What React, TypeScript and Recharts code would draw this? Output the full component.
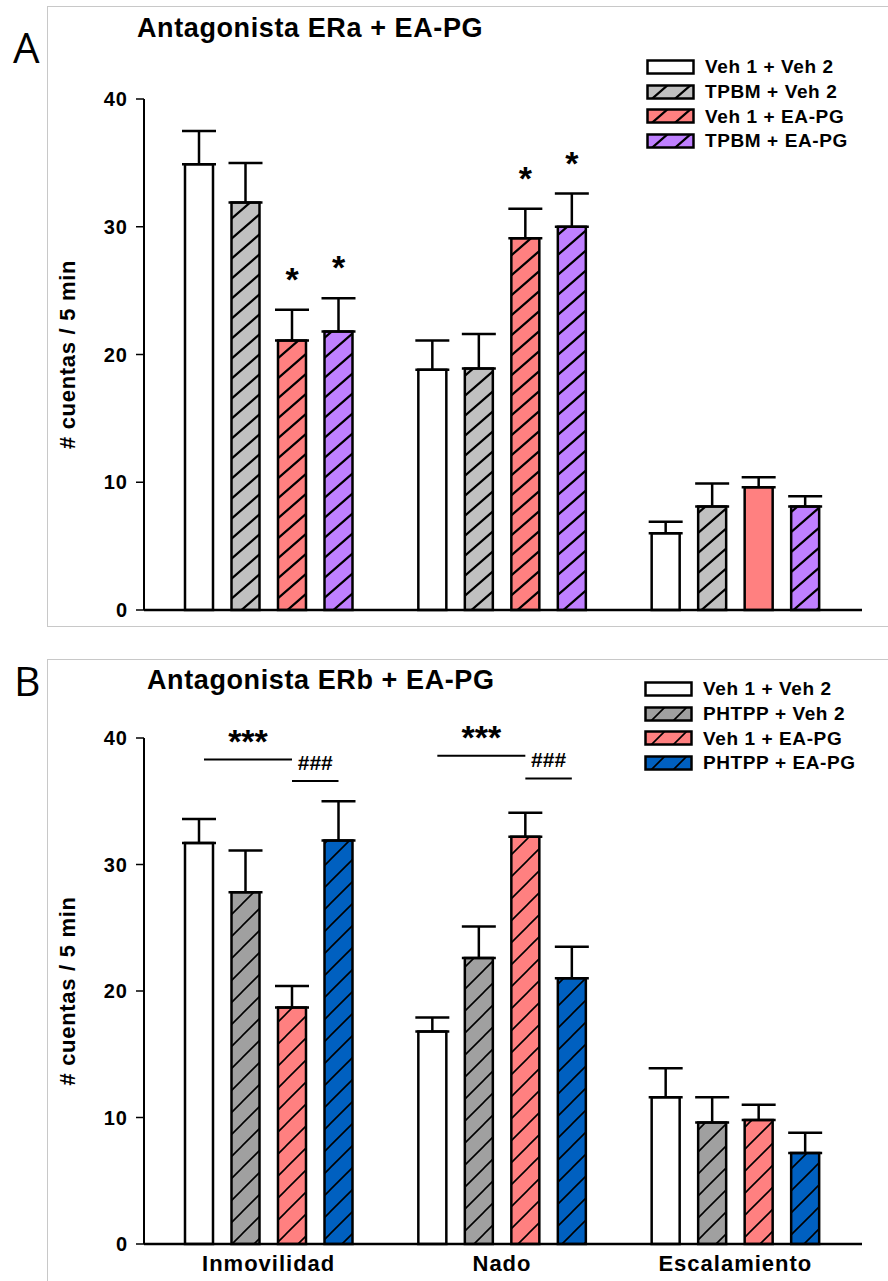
import React from "react";
import { BarChart, Bar, XAxis, YAxis, ErrorBar, Cell, LabelList, Legend } from "recharts";

const categories = ["Inmovilidad", "Nado", "Escalamiento"];
const yTicks = [0, 10, 20, 30, 40];

// panel A: antagonista ERa
const namesA = ["Veh 1 + Veh 2", "TPBM + Veh 2", "Veh 1 + EA-PG", "TPBM + EA-PG"];
const meanA = [
  [34.9, 18.8, 6.0],
  [31.9, 18.9, 8.1],
  [21.1, 29.1, 9.6],
  [21.8, 30.0, 8.1],
];
const semA = [
  [2.6, 2.3, 0.9],
  [3.1, 2.7, 1.8],
  [2.4, 2.3, 0.8],
  [2.6, 2.6, 0.8],
];
const starsA = [
  [false, false, false],
  [false, false, false],
  [true, true, false],
  [true, true, false],
];

// panel B: antagonista ERb
const namesB = ["Veh 1 + Veh 2", "PHTPP + Veh 2", "Veh 1 + EA-PG", "PHTPP + EA-PG"];
const meanB = [
  [31.7, 16.8, 11.6],
  [27.8, 22.6, 9.6],
  [18.7, 32.2, 9.8],
  [31.9, 21.0, 7.2],
];
const semB = [
  [1.9, 1.1, 2.3],
  [3.3, 2.5, 2.0],
  [1.7, 1.9, 1.2],
  [3.1, 2.5, 1.6],
];
// comparisons drawn over Inmovilidad and Nado
const starLevelB = [38.3, 38.6];
const hashLevelB = [36.6, 36.8];

const FONT = '"Liberation Sans", Arial, sans-serif';
const BAR = 28;
const GAP = 18.5;

const colorsA = ["#ffffff", "#c0c0c0", "#ff8080", "#bf80ff"];
const colorsB = ["#ffffff", "#a0a0a0", "#ff8080", "#0060c0"];
// which bars are drawn without hatching (series index -> category indexes)
const plainA: number[][] = [[0, 1, 2], [], [2], []];
const plainB: number[][] = [[0, 1, 2], [], [], []];

const buildRows = (means: number[][], sems: number[][]) =>
  categories.map((cat, i) => {
    const row: Record<string, any> = { cat };
    means.forEach((m, k) => {
      row[`v${k}`] = m[i];
      row[`e${k}`] = [0, sems[k][i]];
    });
    return row;
  });

const rowsA = buildRows(meanA, semA);
const rowsB = buildRows(meanB, semB);

const Hatch = ({ id, color, w, h, sw }: any) => (
  <pattern id={id} patternUnits="userSpaceOnUse" width={w} height={h}>
    <rect width={w} height={h} fill={color} />
    <path
      d={`M0,${h} L${w},0 M${-w / 2},${h / 2} L${w / 2},${-h / 2} M${w / 2},${1.5 * h} L${1.5 * w},${h / 2}`}
      stroke="#000"
      strokeWidth={sw}
    />
  </pattern>
);

const YLabel = (p: any) => {
  const vb = p.viewBox || {};
  const cy = (vb.y ?? 0) + (vb.height ?? 0) / 2;
  return (
    <text
      x={67}
      y={cy}
      transform={`rotate(-90, 67, ${cy})`}
      textAnchor="middle"
      dominantBaseline="central"
      fontFamily={FONT}
      fontWeight="bold"
      fontSize={22}
      letterSpacing={0.7}
      fill="#000"
    >
      # cuentas / 5 min
    </text>
  );
};

const starLabel = (k: number) => (p: any) => {
  const { x, y, width, height, index } = p;
  if (index == null || !starsA[k][index]) return null;
  const ppu = Number(height) / meanA[k][index];
  const top = Number(y) - semA[k][index] * ppu;
  return (
    <text
      key={`s${k}-${index}`}
      x={Number(x) + Number(width) / 2}
      y={top - 34 + 15}
      textAnchor="middle"
      fontFamily={FONT}
      fontWeight="bold"
      fontSize={34}
      fill="#000"
    >
      *
    </text>
  );
};

// brackets are anchored on the Veh 1 + EA-PG bar (series 2)
const bracketLabel = (p: any) => {
  const { x, y, width, height, index } = p;
  if (index == null || index >= starLevelB.length) return null;
  const ppu = Number(height) / meanB[2][index];
  const base = Number(y) + Number(height);
  const cx = Number(x) + Number(width) / 2;
  const step = BAR + GAP;
  const yStar = base - starLevelB[index] * ppu;
  const yHash = base - hashLevelB[index] * ppu;
  const x0 = cx - 2 * step + 5;
  const x2 = cx + step;
  return (
    <g key={`b${index}`}>
      <line x1={x0} x2={cx} y1={yStar} y2={yStar} stroke="#000" strokeWidth={2} />
      <line x1={cx} x2={x2} y1={yHash} y2={yHash} stroke="#000" strokeWidth={2} />
      <text x={(x0 + cx) / 2} y={yStar - 22 + 15} textAnchor="middle" fontFamily={FONT} fontWeight="bold" fontSize={34} fill="#000">
        ***
      </text>
      <text x={(cx + x2) / 2} y={yHash - 11} textAnchor="middle" fontFamily={FONT} fontWeight="bold" fontSize={21} fill="#000">
        ###
      </text>
    </g>
  );
};

const LegendBlock = ({ names, colors, plain, prefix, left, textLeft }: any) => (
  <div style={{ fontFamily: FONT }}>
    {names.map((n: string, k: number) => (
      <div key={n} style={{ display: "flex", alignItems: "center", height: 24.7 }}>
        <svg width={50} height={17} style={{ display: "block" }}>
          <rect
            x={1.5}
            y={1.5}
            width={46}
            height={13}
            fill={plain[k].length === categories.length ? colors[k] : `url(#${prefix}${k})`}
            stroke="#000"
            strokeWidth={2.5}
          />
        </svg>
        <span
          style={{
            marginLeft: textLeft - left - 50,
            fontWeight: "bold",
            fontSize: 19,
            letterSpacing: 0.6,
            color: "#000",
            whiteSpace: "nowrap",
          }}
        >
          {n}
        </span>
      </div>
    ))}
  </div>
);

const yAxisProps = {
  width: 144,
  domain: [0, 40] as [number, number],
  ticks: yTicks,
  interval: 0 as const,
  tickSize: 8,
  tickMargin: 8,
  axisLine: { stroke: "#000", strokeWidth: 2 },
  tickLine: { stroke: "#000", strokeWidth: 1.5 },
  tick: { fill: "#000", fontSize: 20, fontWeight: "bold", fontFamily: FONT, letterSpacing: 1 },
  label: YLabel,
};

const renderBars = (names: string[], colors: string[], plain: number[][], prefix: string, rows: any[], extra: (k: number) => any, sw: number) =>
  names.map((n, k) => (
    <Bar key={n} dataKey={`v${k}`} name={n} stroke="#000" strokeWidth={sw} isAnimationActive={false}>
      {rows.map((_, i) => (
        <Cell key={i} fill={plain[k].includes(i) ? colors[k] : `url(#${prefix}${k})`} />
      ))}
      <ErrorBar dataKey={`e${k}`} direction="y" width={17} stroke="#000" strokeWidth={2.5} />
      {extra(k)}
    </Bar>
  ));

const App = () => {
  return (
    <div style={{ position: "absolute", left: 0, top: 0, width: 888, height: 1281, overflow: "hidden", background: "#fff" }}>
      {/* panel frames */}
      <div style={{ position: "absolute", left: 47, top: 6, width: 841, height: 619, borderLeft: "1px solid #c8c8c8", borderTop: "1px solid #c8c8c8", borderBottom: "1px solid #c8c8c8" }} />
      <div style={{ position: "absolute", left: 47, top: 659, width: 841, height: 630, borderLeft: "1px solid #c8c8c8", borderTop: "1px solid #c8c8c8" }} />

      <div style={{ position: "absolute", left: 0, top: 0 }}>
        <BarChart width={888} height={640} data={rowsA} margin={{ top: 99, right: 26, bottom: 0, left: 0 }} barSize={BAR} barGap={GAP}>
          <defs>
            {colorsA.map((c, k) => (
              <Hatch key={k} id={`hA${k}`} color={c} w={23} h={20} sw={2.2} />
            ))}
          </defs>
          <XAxis dataKey="cat" height={30} tick={false} tickLine={false} axisLine={{ stroke: "#000", strokeWidth: 2.5 }} padding={{ left: 8, right: 10 }} />
          <YAxis {...yAxisProps} />
          <Legend
            layout="vertical"
            align="center"
            verticalAlign="middle"
            content={() => <LegendBlock names={namesA} colors={colorsA} plain={plainA} prefix="hA" left={646} textLeft={705} />}
            wrapperStyle={{ position: "absolute", left: 646, top: 55, width: 240 }}
          />
          {renderBars(namesA, colorsA, plainA, "hA", rowsA, (k) => (starsA[k].some(Boolean) ? <LabelList content={starLabel(k)} /> : null), 2.5)}
        </BarChart>
      </div>

      <div style={{ position: "absolute", left: 0, top: 640 }}>
        <BarChart width={888} height={641} data={rowsB} margin={{ top: 98, right: 26, bottom: 0, left: 0 }} barSize={BAR} barGap={GAP}>
          <defs>
            {colorsB.map((c, k) => (
              <Hatch key={k} id={`hB${k}`} color={c} w={22} h={22} sw={1.6} />
            ))}
          </defs>
          <XAxis
            dataKey="cat"
            height={37}
            tickSize={0}
            tickMargin={11}
            tickLine={false}
            axisLine={{ stroke: "#000", strokeWidth: 2.5 }}
            padding={{ left: 8, right: 10 }}
            tick={{ fill: "#000", fontSize: 22, fontWeight: "bold", fontFamily: FONT, letterSpacing: 1 }}
          />
          <YAxis {...yAxisProps} />
          <Legend
            layout="vertical"
            align="center"
            verticalAlign="middle"
            content={() => <LegendBlock names={namesB} colors={colorsB} plain={plainB} prefix="hB" left={644} textLeft={703} />}
            wrapperStyle={{ position: "absolute", left: 644, top: 37, width: 244 }}
          />
          {renderBars(namesB, colorsB, plainB, "hB", rowsB, (k) => (k === 2 ? <LabelList content={bracketLabel} /> : null), 2.5)}
        </BarChart>
      </div>

      {/* titles and panel letters */}
      <svg width={888} height={1281} style={{ position: "absolute", left: 0, top: 0, pointerEvents: "none" }}>
        <text x={13} y={63} fontFamily='"Open Sans", sans-serif' fontSize={42} fill="#000">A</text>
        <text x={14} y={696} fontFamily='"Open Sans", sans-serif' fontSize={41} fill="#000">B</text>
        <text x={137} y={37} fontFamily={FONT} fontWeight="bold" fontSize={27} letterSpacing={0.6} fill="#000">Antagonista ERa + EA-PG</text>
        <text x={147} y={689} fontFamily={FONT} fontWeight="bold" fontSize={27} letterSpacing={0.6} fill="#000">Antagonista ERb + EA-PG</text>
      </svg>
    </div>
  );
};

export default App;
